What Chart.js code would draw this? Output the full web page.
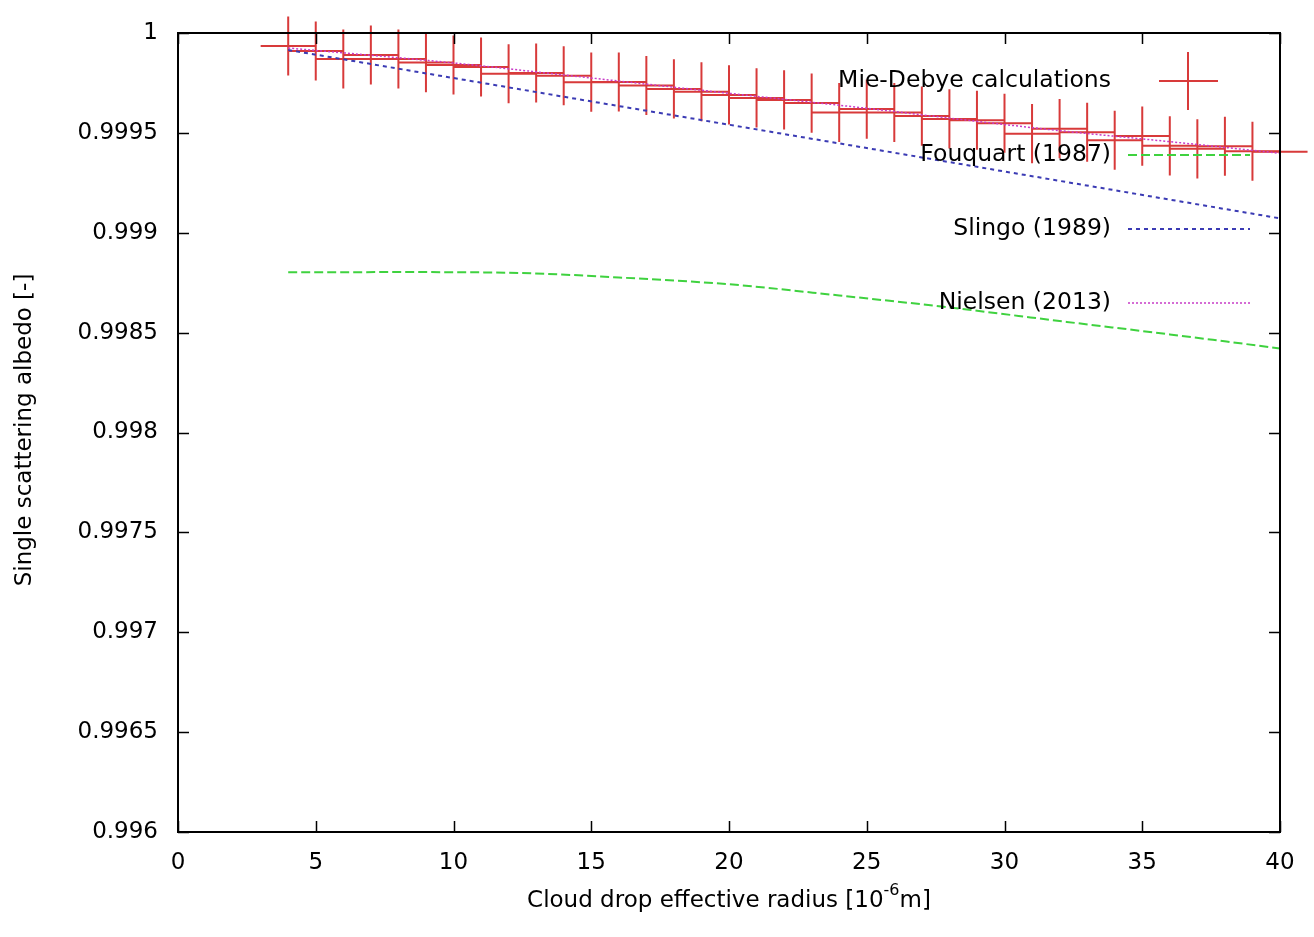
<!DOCTYPE html>
<html>
<head>
<meta charset="utf-8">
<script src="https://cdn.jsdelivr.net/npm/chart.js@4.4.1/dist/chart.umd.min.js"></script>
<style>
  html, body { margin: 0; padding: 0; background: #fff; }
  #wrap { width: 1314px; height: 937px; }
</style>
</head>
<body>
<div id="wrap"><canvas id="albedoChart" width="1314" height="937"></canvas></div>
<script>
// Mie-Debye points (x = effective radius, y = albedo, +- errors)
const mieRadius = [4, 5, 6, 7, 8, 9, 10, 11, 12, 13, 14, 15, 16, 17, 18, 19, 20, 21, 22,
  23, 24, 25, 26, 27, 28, 29, 30, 31, 32, 33, 34, 35, 36, 37, 38, 39, 40];
const mieAlbedo = [0.999935, 0.99991, 0.99987, 0.99989, 0.99987, 0.999852, 0.99984, 0.99983,
  0.999796, 0.9998, 0.999786, 0.999754, 0.999755, 0.999737, 0.99972, 0.999706, 0.99969,
  0.999675, 0.999665, 0.999649, 0.999602, 0.999619, 0.999602, 0.999584, 0.99957, 0.999563,
  0.999548, 0.999496, 0.999521, 0.999503, 0.999463, 0.999484, 0.999435, 0.99942, 0.999433,
  0.999408, 0.999405];
const mieYErr = [0.000148, 0.000148, 0.000148, 0.000148, 0.000148, 0.000148, 0.000148, 0.000148,
  0.000148, 0.000148, 0.000148, 0.000148, 0.000148, 0.000148, 0.000148, 0.000148, 0.000148,
  0.000148, 0.000148, 0.000148, 0.000148, 0.000148, 0.000148, 0.000148, 0.000148, 0.000148,
  0.000148, 0.000148, 0.000148, 0.000148, 0.000148, 0.000148, 0.000148, 0.000148, 0.000148,
  0.000148, 0.000148];
const mieXErr = 1;

// parameterisations
const fouquartRadius = [4, 8, 12, 16, 20, 24, 28, 32, 36, 40];
const fouquartAlbedo = [0.998802, 0.998803, 0.9988, 0.998776, 0.998742, 0.998686, 0.998626,
  0.998558, 0.998491, 0.998421];

const slingoRadius = [4, 14, 25, 40];
const slingoAlbedo = [0.999915, 0.999681, 0.999424, 0.999072];

const nielsenRadius = [4, 10, 14, 20, 25, 28, 32, 36, 40];
const nielsenAlbedo = [0.999925, 0.99985, 0.99979, 0.999698, 0.999623, 0.999574, 0.999511,
  0.999456, 0.999398];

const xTicks = { min: 0, max: 40, step: 5 };
const yTicks = { min: 0.996, max: 1, step: 0.0005 };

const FONT = 'DejaVu Sans';
const RED = '#d83a3a';

function toPoints(xs, ys) {
  return xs.map((x, i) => ({ x: x, y: ys[i] }));
}

// error bars of the first dataset, drawn under the curves
const errorBars = {
  id: 'errorBars',
  beforeDatasetsDraw(chart) {
    const ctx = chart.ctx;
    const xs = chart.scales.x, ys = chart.scales.y;
    ctx.save();
    ctx.strokeStyle = RED;
    ctx.lineWidth = 2;
    mieRadius.forEach((r, i) => {
      const v = mieAlbedo[i];
      const px = xs.getPixelForValue(r);
      const py = ys.getPixelForValue(v);
      ctx.beginPath();
      ctx.moveTo(xs.getPixelForValue(r - mieXErr), py);
      ctx.lineTo(xs.getPixelForValue(r + mieXErr), py);
      ctx.moveTo(px, ys.getPixelForValue(v + mieYErr[i]));
      ctx.lineTo(px, ys.getPixelForValue(v - mieYErr[i]));
      ctx.stroke();
    });
    ctx.restore();
  }
};

// gnuplot style frame: border, inward ticks, titles, keys
const frame = {
  id: 'frame',
  afterDraw(chart) {
    const ctx = chart.ctx;
    const a = chart.chartArea;
    const xs = chart.scales.x, ys = chart.scales.y;
    ctx.save();

    ctx.strokeStyle = '#000';
    ctx.lineWidth = 1.5;
    ctx.beginPath();
    xs.ticks.forEach(t => {
      const px = Math.round(xs.getPixelForValue(t.value)) + 0.5;
      ctx.moveTo(px, a.bottom); ctx.lineTo(px, a.bottom - 11);
      ctx.moveTo(px, a.top); ctx.lineTo(px, a.top + 11);
    });
    ys.ticks.forEach(t => {
      const py = Math.round(ys.getPixelForValue(t.value)) + 0.5;
      ctx.moveTo(a.left, py); ctx.lineTo(a.left + 11, py);
      ctx.moveTo(a.right, py); ctx.lineTo(a.right - 11, py);
    });
    ctx.stroke();

    ctx.lineWidth = 2;
    ctx.strokeRect(a.left, a.top, a.right - a.left, a.bottom - a.top);

    // axis titles
    ctx.fillStyle = '#000';
    ctx.textBaseline = 'middle';
    ctx.font = '23px "' + FONT + '"';
    ctx.save();
    ctx.translate(25, 430);
    ctx.rotate(-Math.PI / 2);
    ctx.textAlign = 'center';
    ctx.fillText('Single scattering albedo [-]', 0, 0);
    ctx.restore();

    const part1 = 'Cloud drop effective radius [10';
    const sup = '-6';
    const part2 = 'm]';
    ctx.font = '23px "' + FONT + '"';
    const w1 = ctx.measureText(part1).width;
    const w3 = ctx.measureText(part2).width;
    ctx.font = '16px "' + FONT + '"';
    const w2 = ctx.measureText(sup).width;
    let x0 = 729 - (w1 + w2 + w3) / 2;
    ctx.textAlign = 'left';
    ctx.font = '23px "' + FONT + '"';
    ctx.fillText(part1, x0, 901);
    ctx.font = '16px "' + FONT + '"';
    ctx.fillText(sup, x0 + w1, 891);
    ctx.font = '23px "' + FONT + '"';
    ctx.fillText(part2, x0 + w1 + w2, 901);

    // keys
    chart.data.datasets.forEach((ds, i) => {
      const ky = 81 + 74 * i;
      ctx.font = '23.5px "' + FONT + '"';
      ctx.textAlign = 'right';
      ctx.fillStyle = '#000';
      ctx.fillText(ds.label, 1111, ky);
      ctx.beginPath();
      if (i === 0) {
        ctx.strokeStyle = RED;
        ctx.lineWidth = 2;
        ctx.setLineDash([]);
        ctx.moveTo(1159, ky); ctx.lineTo(1218, ky);
        ctx.moveTo(1188, ky - 29); ctx.lineTo(1188, ky + 29);
      } else {
        ctx.strokeStyle = ds.borderColor;
        ctx.lineWidth = ds.borderWidth;
        ctx.setLineDash(ds.borderDash);
        ctx.moveTo(1128, ky); ctx.lineTo(1250, ky);
      }
      ctx.stroke();
    });
    ctx.restore();
  }
};

Chart.defaults.font.family = FONT;
Chart.defaults.font.size = 23;
Chart.defaults.color = '#000';

new Chart(document.getElementById('albedoChart'), {
  type: 'scatter',
  data: {
    datasets: [
      {
        label: 'Mie-Debye calculations',
        data: toPoints(mieRadius, mieAlbedo),
        pointRadius: 0,
        showLine: false
      },
      {
        label: 'Fouquart (1987)',
        data: toPoints(fouquartRadius, fouquartAlbedo),
        showLine: true,
        borderColor: '#3fd23f',
        borderWidth: 2,
        borderDash: [9, 4],
        pointRadius: 0,
        cubicInterpolationMode: 'monotone'
      },
      {
        label: 'Slingo (1989)',
        data: toPoints(slingoRadius, slingoAlbedo),
        showLine: true,
        borderColor: '#3b3bb4',
        borderWidth: 2,
        borderDash: [4, 4],
        pointRadius: 0
      },
      {
        label: 'Nielsen (2013)',
        data: toPoints(nielsenRadius, nielsenAlbedo),
        showLine: true,
        borderColor: '#c83cc8',
        borderWidth: 1.5,
        borderDash: [2, 2],
        pointRadius: 0,
        cubicInterpolationMode: 'monotone'
      }
    ]
  },
  options: {
    responsive: false,
    animation: false,
    layout: { padding: { top: 33, right: 34, left: 0, bottom: 0 } },
    plugins: {
      legend: { display: false },
      tooltip: { enabled: false }
    },
    scales: {
      x: {
        type: 'linear',
        min: xTicks.min,
        max: xTicks.max,
        grid: { display: false },
        border: { display: false },
        ticks: { stepSize: xTicks.step, padding: 9, maxRotation: 0 },
        afterFit(scale) { scale.height = 105; }
      },
      y: {
        type: 'linear',
        min: yTicks.min,
        max: yTicks.max,
        grid: { display: false },
        border: { display: false },
        ticks: {
          stepSize: yTicks.step,
          padding: 12,
          callback: v => parseFloat(v.toFixed(4)).toString()
        },
        afterFit(scale) { scale.width = 178; }
      }
    }
  },
  plugins: [errorBars, frame]
});
</script>
</body>
</html>
